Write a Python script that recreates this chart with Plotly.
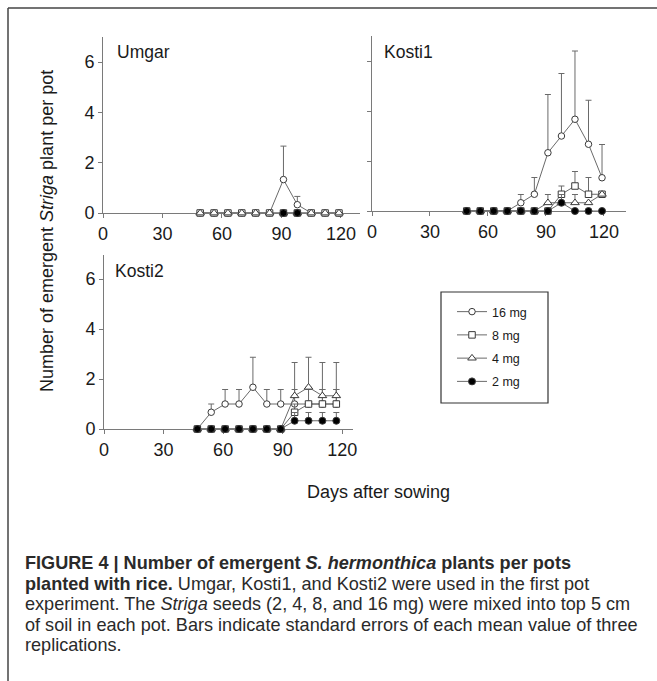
import plotly.graph_objects as go

W, H = 657, 681

doses = ["16 mg", "8 mg", "4 mg", "2 mg"]

days_umgar = [49, 56, 63, 70, 77, 84, 91, 98, 105, 112, 119]
umgar_16 = [0, 0, 0, 0, 0, 0, 1.33, 0.33, 0, 0, 0]
umgar_16_se = [0, 0, 0, 0, 0, 0, 1.33, 0.33, 0, 0, 0]
umgar_8 = [0] * 11
umgar_8_se = [0] * 11
umgar_4 = [0] * 11
umgar_4_se = [0] * 11
umgar_2 = [None, None, None, None, None, None, 0, 0, None, None, None]
umgar_2_se = [0] * 11

days_k1 = [49, 56, 63, 70, 77, 84, 91, 98, 105, 112, 119]
k1_16 = [0, 0, 0, 0, 0.33, 0.67, 2.33, 3.0, 3.67, 2.67, 1.33]
k1_16_se = [0, 0, 0, 0, 0.33, 0.67, 2.33, 2.5, 2.73, 1.76, 1.33]
k1_8 = [0, 0, 0, 0, 0, 0, 0, 0.67, 1.0, 0.67, 0.67]
k1_8_se = [0, 0, 0, 0, 0, 0, 0, 0.33, 0.58, 0.67, 0]
k1_4 = [0, 0, 0, 0, 0, 0, 0.33, 0.33, 0.33, 0.33, 0.67]
k1_4_se = [0, 0, 0, 0, 0, 0, 0.33, 0, 0.33, 0, 0]
k1_2 = [0, 0, 0, 0, 0, 0, 0, 0.33, 0, 0, 0]
k1_2_se = [0, 0, 0, 0, 0, 0, 0, 0.33, 0, 0, 0]

days_k2 = [47, 54, 61, 68, 75, 82, 89, 96, 103, 110, 117]
k2_16 = [0, 0.67, 1.0, 1.0, 1.67, 1.0, 1.0, 1.0, 1.0, 1.0, 1.0]
k2_16_se = [0, 0.33, 0.58, 0.58, 1.2, 0.58, 0.58, 0.58, 0.58, 0.58, 0.58]
k2_8 = [0, 0, 0, 0, 0, 0, 0, 0.67, 1.0, 1.0, 1.0]
k2_8_se = [0, 0, 0, 0, 0, 0, 0, 0.33, 0.58, 0.58, 0.58]
k2_4 = [0, 0, 0, 0, 0, 0, 0, 1.33, 1.67, 1.33, 1.33]
k2_4_se = [0, 0, 0, 0, 0, 0, 0, 1.33, 1.2, 1.33, 1.33]
k2_2 = [0, 0, 0, 0, 0, 0, 0, 0.33, 0.33, 0.33, 0.33]
k2_2_se = [0, 0, 0, 0, 0, 0, 0, 0.33, 0.33, 0.33, 0.33]

panel_names = ["Umgar", "Kosti1", "Kosti2"]
x_ticks = [0, 30, 60, 90, 120]
y_ticks = [0, 2, 4, 6]

def px(x):
    return x / W

def py(y):
    return 1 - y / H

FONT = "Liberation Sans, Arial, sans-serif"
LINE_C = "#6a6a6a"
MK_C = "#3a3a3a"
TXT = "#1a1a1a"

styles = {
    "16 mg": dict(symbol="circle", color="white", size=6.5),
    "8 mg": dict(symbol="square", color="white", size=6.5),
    "4 mg": dict(symbol="triangle-up", color="white", size=7.5),
    "2 mg": dict(symbol="circle", color="black", size=7),
}

panels = [
    ("x", "y", days_umgar, [(umgar_16, umgar_16_se), (umgar_8, umgar_8_se),
                            (umgar_4, umgar_4_se), (umgar_2, umgar_2_se)]),
    ("x2", "y2", days_k1, [(k1_16, k1_16_se), (k1_8, k1_8_se),
                           (k1_4, k1_4_se), (k1_2, k1_2_se)]),
    ("x3", "y3", days_k2, [(k2_16, k2_16_se), (k2_8, k2_8_se),
                           (k2_4, k2_4_se), (k2_2, k2_2_se)]),
]

fig = go.Figure()
for pi, (xa, ya, days, series) in enumerate(panels):
    for dose, (vals, se) in zip(doses, series):
        st = styles[dose]
        fig.add_trace(go.Scatter(
            x=days, y=vals, xaxis=xa, yaxis=ya,
            mode="lines+markers", name=dose, legendgroup=dose,
            showlegend=(pi == 1), cliponaxis=False, connectgaps=False,
            line=dict(color=LINE_C, width=1),
            marker=dict(symbol=st["symbol"], color=st["color"], size=st["size"],
                        line=dict(color=MK_C, width=1)),
            error_y=dict(type="data", symmetric=False, array=se,
                         arrayminus=[0] * len(se), color=LINE_C,
                         thickness=1, width=3),
        ))

axis_common = dict(
    showgrid=False, zeroline=False, showline=True, linecolor="#7a7a7a",
    linewidth=1, ticks="outside", ticklen=4, tickcolor="#7a7a7a",
    tickfont=dict(family=FONT, size=18, color=TXT), layer="below traces",
    automargin=False,
)

fig.update_layout(
    template="none",
    width=W, height=H, margin=dict(l=0, r=0, t=0, b=0, pad=0, autoexpand=False),
    paper_bgcolor="white", plot_bgcolor="rgba(0,0,0,0)",
    showlegend=True,
    xaxis=dict(domain=[px(103), px(360)], range=[0, 129.6], tickvals=x_ticks,
               anchor="y", **axis_common),
    yaxis=dict(domain=[py(213), py(37)], range=[0, 7], tickvals=y_ticks,
               anchor="x", **axis_common),
    xaxis2=dict(domain=[px(372), px(626)], range=[0, 131.4], tickvals=x_ticks,
                anchor="y2", **axis_common),
    yaxis2=dict(domain=[py(211), py(36)], range=[0, 7], tickvals=y_ticks,
                showticklabels=False, anchor="x2", **axis_common),
    xaxis3=dict(domain=[px(104), px(353)], range=[0, 125.4], tickvals=x_ticks,
                anchor="y3", **axis_common),
    yaxis3=dict(domain=[py(429), py(255)], range=[0, 6.96], tickvals=y_ticks,
                anchor="x3", **axis_common),
    legend=dict(
        x=px(452), y=py(297), xanchor="left", yanchor="top",
        borderwidth=0, bgcolor="rgba(0,0,0,0)",
        font=dict(family=FONT, size=12.5, color=TXT),
        itemwidth=30, tracegroupgap=4,
    ),
)

ann = []
for name, (x0, y0) in zip(panel_names, [(115, 52), (382, 52), (113, 271)]):
    ann.append(dict(text=name, x=px(x0), y=py(y0), xref="paper", yref="paper",
                    xanchor="left", yanchor="middle", showarrow=False,
                    font=dict(family=FONT, size=17.5, color=TXT)))
ann.append(dict(text="Number of emergent <i>Striga</i> plant per pot",
                x=px(47), y=py(231), xref="paper", yref="paper", textangle=-90,
                xanchor="center", yanchor="middle",
                showarrow=False, font=dict(family=FONT, size=18, color=TXT)))
ann.append(dict(text="Days after sowing", x=px(378), y=py(492), xref="paper",
                yref="paper", xanchor="center", yanchor="middle", showarrow=False,
                font=dict(family=FONT, size=18, color=TXT)))
caption_lines = [
    "<b>FIGURE 4 | Number of emergent <i>S. hermonthica</i> plants per pots</b>",
    "<b>planted with rice.</b> Umgar, Kosti1, and Kosti2 were used in the first pot",
    "experiment. The <i>Striga</i> seeds (2, 4, 8, and 16 mg) were mixed into top 5 cm",
    "of soil in each pot. Bars indicate standard errors of each mean value of three",
    "replications.",
]
for i, line in enumerate(caption_lines):
    ann.append(dict(text=line, x=px(23), y=py(563 + i * 20.6), xref="paper",
                    yref="paper", xanchor="left", yanchor="middle", showarrow=False,
                    font=dict(family=FONT, size=18.1, color="#2a2a2a")))
fig.update_layout(annotations=ann)

fig.add_shape(type="rect", xref="paper", yref="paper", x0=px(441), x1=px(548),
              y0=py(403), y1=py(292), line=dict(color="#333333", width=1.2),
              layer="above")
fig.add_shape(type="line", xref="paper", yref="paper", x0=px(8), x1=1,
              y0=py(8), y1=py(8), line=dict(color="#444444", width=1.5))
fig.add_shape(type="line", xref="paper", yref="paper", x0=px(8), x1=px(8),
              y0=py(8), y1=0, line=dict(color="#444444", width=1.5))

fig.write_html("out.html")
